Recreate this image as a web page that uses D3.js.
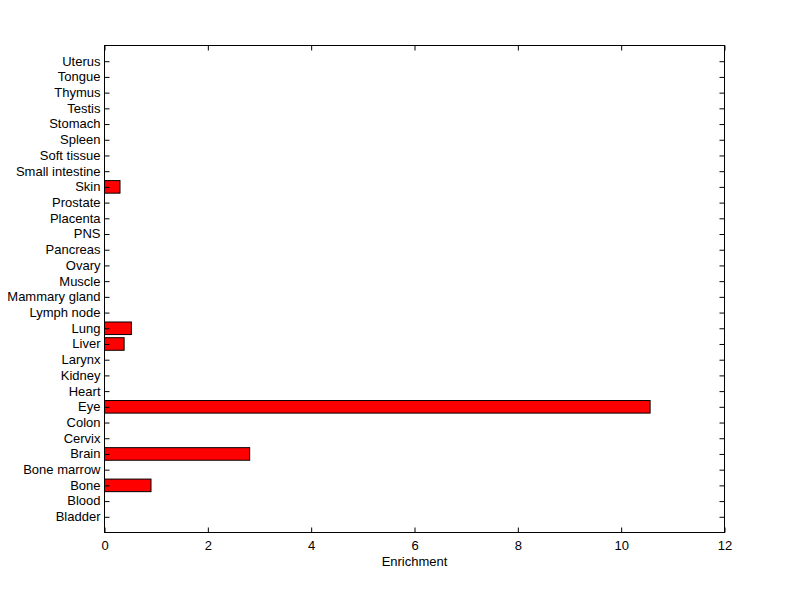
<!DOCTYPE html>
<html><head><meta charset="utf-8">
<script src="https://cdn.jsdelivr.net/npm/d3@7"></script>
<style>body{margin:0;background:#fff;} svg{display:block;}</style>
</head><body>
<script>
const categories = ["Bladder","Blood","Bone","Bone marrow","Brain","Cervix","Colon","Eye","Heart","Kidney","Larynx","Liver","Lung","Lymph node","Mammary gland","Muscle","Ovary","Pancreas","PNS","Placenta","Prostate","Skin","Small intestine","Soft tissue","Spleen","Stomach","Testis","Thymus","Tongue","Uterus"];
const values = [0,0,0.90,0,2.81,0,0,10.56,0,0,0,0.38,0.52,0,0,0,0,0,0,0,0,0.30,0,0,0,0,0,0,0,0];
const xTicks = [0,2,4,6,8,10,12];
const xLabel = "Enrichment";

const W=800,H=599;
const L=104.5,R=724.5,T=45.5,B=532.5;
const font='"Liberation Sans", Arial, sans-serif';
const fs="13px";
const svg=d3.select("body").append("svg").attr("width",W).attr("height",H);
svg.append("rect").attr("width",W).attr("height",H).attr("fill","#fff");

const x=d3.scaleLinear().domain([0,12]).range([L,R]);
const y=d3.scaleLinear().domain([0,categories.length+1]).range([B,T]);
const step=Math.abs(y(1)-y(0));
const bh=step*0.8;

const data=categories.map((c,i)=>({c,v:values[i],p:i+1}));
svg.append("g").selectAll("rect").data(data.filter(d=>d.v>0)).join("rect")
  .attr("x",x(0)).attr("y",d=>y(d.p)-bh/2)
  .attr("width",d=>x(d.v)-x(0)).attr("height",bh)
  .attr("fill","#ff0000").attr("stroke","#000").attr("stroke-width",1);

const tl=5;
const xb=svg.append("g").attr("transform",`translate(0,${B})`)
  .call(d3.axisBottom(x).tickValues(xTicks).tickFormat(d3.format("d")).tickSizeInner(-tl).tickSizeOuter(0).tickPadding(8));
const xt=svg.append("g").attr("transform",`translate(0,${T})`)
  .call(d3.axisTop(x).tickValues(xTicks).tickFormat("").tickSizeInner(-tl).tickSizeOuter(0));
const yl=svg.append("g").attr("transform",`translate(${L},0)`)
  .call(d3.axisLeft(y).tickValues(d3.range(1,categories.length+1)).tickFormat(d=>categories[d-1]).tickSizeInner(-tl).tickSizeOuter(0).tickPadding(4));
const yr=svg.append("g").attr("transform",`translate(${R},0)`)
  .call(d3.axisRight(y).tickValues(d3.range(1,categories.length+1)).tickFormat("").tickSizeInner(-tl).tickSizeOuter(0));

[xb,xt,yl,yr].forEach(g=>{
  g.select(".domain").remove();
  g.selectAll("line").attr("stroke","#000");
  g.selectAll("text").attr("font-family",font).attr("font-size",fs).attr("fill","#000");
});
yl.selectAll("text").attr("dy","0.3em");

svg.append("rect").attr("x",L).attr("y",T).attr("width",R-L).attr("height",B-T)
  .attr("fill","none").attr("stroke","#000").attr("stroke-width",1);

svg.append("text").attr("x",(L+R)/2).attr("y",566).attr("text-anchor","middle")
  .attr("font-family",font).attr("font-size",fs).attr("fill","#000").text(xLabel);
</script>
</body></html>
